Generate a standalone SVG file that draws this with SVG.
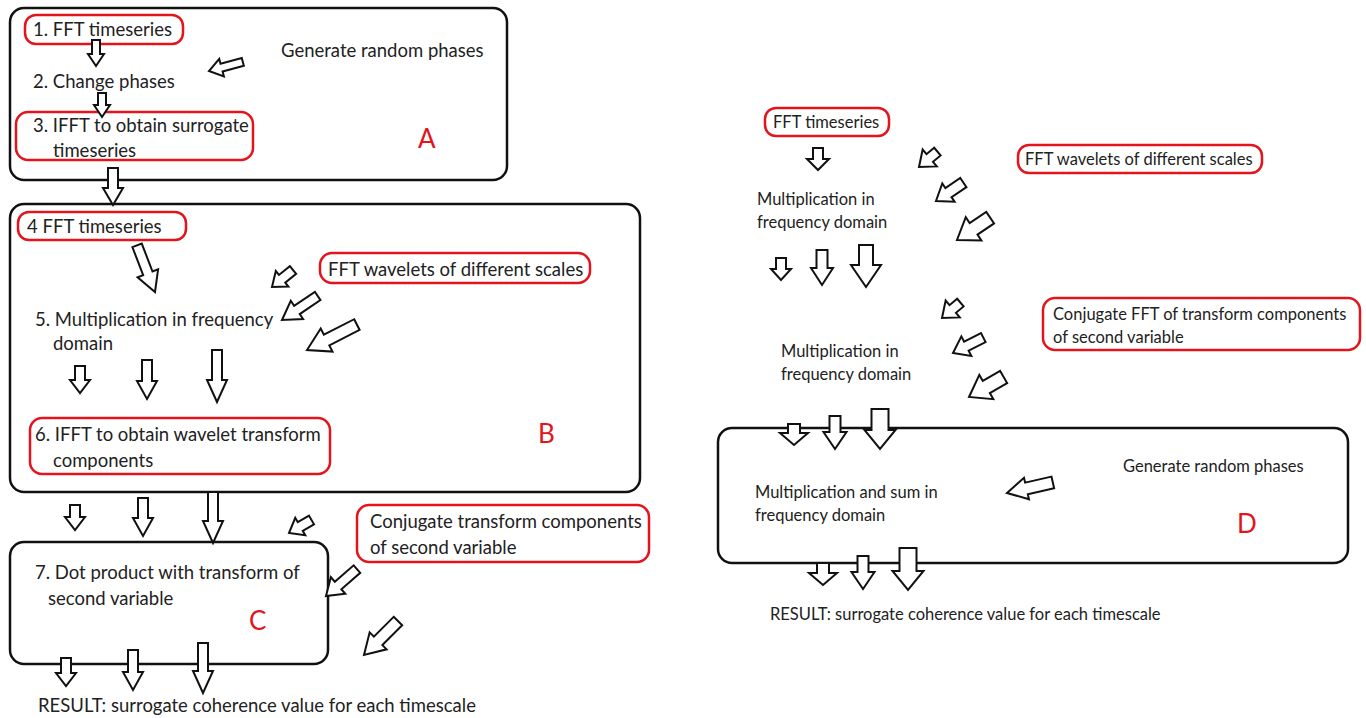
<svg xmlns="http://www.w3.org/2000/svg" width="1366" height="718" viewBox="0 0 1366 718">
<style>
.box{fill:none;stroke:#111;stroke-width:2.5}
.red{fill:none;stroke:#e3141c;stroke-width:2.5}
.t{font-family:Lato,"Open Sans",sans-serif;font-size:18.5px;fill:#222}
.tr{font-family:Lato,"Open Sans",sans-serif;font-size:16.5px;fill:#222}
.lbl{font-family:Lato,"Open Sans",sans-serif;font-size:26px;fill:#e3141c}
.arr{fill:#fff;stroke:#111;stroke-width:2;stroke-linejoin:miter}
</style>
<rect width="1366" height="718" fill="#fff"/>

<g id="boxA"><rect class="box" x="10" y="8" width="497" height="172" rx="14"/><text class="lbl" x="418" y="148">A</text></g>
<g id="boxB"><rect class="box" x="10" y="204" width="630" height="288" rx="14"/><text class="lbl" x="538" y="443">B</text></g>
<g id="boxC"><rect class="box" x="10" y="542" width="318" height="122" rx="14"/><text class="lbl" x="249" y="630">C</text></g>
<g id="boxD"><rect class="box" x="718" y="428" width="630" height="135" rx="14"/><text class="lbl" x="1237" y="533">D</text></g>

<g id="n1"><rect class="red" x="25" y="15" width="158" height="29" rx="11"/><text class="t" x="33" y="36">1. FFT timeseries</text></g>
<g id="nGenA"><text class="t" x="281" y="57">Generate random phases</text></g>
<g id="n2"><text class="t" x="33" y="88">2. Change phases</text></g>
<g id="n3"><rect class="red" x="16" y="112" width="237" height="48" rx="12"/><text class="t" x="33" y="132">3. IFFT to obtain surrogate</text><text class="t" x="53" y="157">timeseries</text></g>
<g id="n4"><rect class="red" x="18" y="212" width="168" height="28" rx="11"/><text class="t" x="27" y="233">4 FFT timeseries</text></g>
<g id="nWavL"><rect class="red" x="320" y="253" width="270" height="30" rx="12"/><text class="t" x="328" y="276">FFT wavelets of different scales</text></g>
<g id="n5"><text class="t" x="35" y="326">5. Multiplication in frequency</text><text class="t" x="53" y="350">domain</text></g>
<g id="n6"><rect class="red" x="30" y="418" width="300" height="56" rx="12"/><text class="t" x="35" y="441">6. IFFT to obtain wavelet transform</text><text class="t" x="53" y="467">components</text></g>
<g id="nConjL"><rect class="red" x="357" y="505" width="292" height="57" rx="12"/><text class="t" x="370" y="528">Conjugate transform components</text><text class="t" x="370" y="554">of second variable</text></g>
<g id="n7"><text class="t" x="35" y="579">7. Dot product with transform of</text><text class="t" x="48" y="605">second variable</text></g>
<g id="nResL"><text class="t" x="38" y="712">RESULT: surrogate coherence value for each timescale</text></g>

<g id="rFFT"><rect class="red" x="765" y="108" width="124" height="28" rx="11"/><text class="tr" x="773" y="128">FFT timeseries</text></g>
<g id="rWav"><rect class="red" x="1018" y="145" width="244" height="28" rx="11"/><text class="tr" x="1025" y="165">FFT wavelets of different scales</text></g>
<g id="rMul1"><text class="tr" x="757" y="205">Multiplication in</text><text class="tr" x="757" y="228">frequency domain</text></g>
<g id="rConj"><rect class="red" x="1043" y="298" width="317" height="52" rx="12"/><text class="tr" x="1053" y="320">Conjugate FFT of transform components</text><text class="tr" x="1053" y="343">of second variable</text></g>
<g id="rMul2"><text class="tr" x="781" y="357">Multiplication in</text><text class="tr" x="781" y="380">frequency domain</text></g>
<g id="rGen"><text class="tr" x="1123" y="472">Generate random phases</text></g>
<g id="rMulSum"><text class="tr" x="755" y="498">Multiplication and sum in</text><text class="tr" x="755" y="521">frequency domain</text></g>
<g id="rRes"><text class="tr" x="770" y="620">RESULT: surrogate coherence value for each timescale</text></g>

<g id="connectors">
<polygon class="arr" transform="translate(96,66)" points="-4,-26 4,-26 4,-12 8,-12 0,0 -8,-12 -4,-12"/>
<polygon class="arr" transform="translate(209,71) rotate(75)" points="-4,-35 4,-35 4,-13 9,-13 0,0 -9,-13 -4,-13"/>
<polygon class="arr" transform="translate(102,117)" points="-4,-24 4,-24 4,-12 8,-12 0,0 -8,-12 -4,-12"/>
<polygon class="arr" transform="translate(113,205)" points="-5,-37 5,-37 5,-17 10,-17 0,0 -10,-17 -5,-17"/>

<polygon class="arr" transform="translate(155,292) rotate(-21)" points="-5,-50 5,-50 5,-20 11,-20 0,0 -11,-20 -5,-20"/>
<polygon class="arr" transform="translate(272,287) rotate(51)" points="-5,-27 5,-27 5,-13 10,-13 0,0 -10,-13 -5,-13"/>
<polygon class="arr" transform="translate(282,320) rotate(56)" points="-5,-43 5,-43 5,-18 11,-18 0,0 -11,-18 -5,-18"/>
<polygon class="arr" transform="translate(307,350) rotate(63)" points="-6,-56 6,-56 6,-22 13,-22 0,0 -13,-22 -6,-22"/>
<polygon class="arr" transform="translate(80,393)" points="-5,-27 5,-27 5,-13 10,-13 0,0 -10,-13 -5,-13"/>
<polygon class="arr" transform="translate(147,399)" points="-5,-39 5,-39 5,-18 10,-18 0,0 -10,-18 -5,-18"/>
<polygon class="arr" transform="translate(217,402)" points="-5,-52 5,-52 5,-22 10,-22 0,0 -10,-22 -5,-22"/>

<polygon class="arr" transform="translate(75,530)" points="-5,-25 5,-25 5,-13 10,-13 0,0 -10,-13 -5,-13"/>
<polygon class="arr" transform="translate(143,536)" points="-5,-38 5,-38 5,-18 10,-18 0,0 -10,-18 -5,-18"/>
<polygon class="arr" transform="translate(213,543)" points="-5,-51 5,-51 5,-22 10,-22 0,0 -10,-22 -5,-22"/>
<polygon class="arr" transform="translate(289,533) rotate(60)" points="-5,-26 5,-26 5,-13 10,-13 0,0 -10,-13 -5,-13"/>
<polygon class="arr" transform="translate(326,596) rotate(49)" points="-5,-41 5,-41 5,-16 11,-16 0,0 -11,-16 -5,-16"/>
<polygon class="arr" transform="translate(364,655) rotate(45)" points="-6,-48 6,-48 6,-20 12,-20 0,0 -12,-20 -6,-20"/>
<polygon class="arr" transform="translate(66,686)" points="-5,-28 5,-28 5,-13 10,-13 0,0 -10,-13 -5,-13"/>
<polygon class="arr" transform="translate(133,690)" points="-5,-40 5,-40 5,-18 10,-18 0,0 -10,-18 -5,-18"/>
<polygon class="arr" transform="translate(203,693)" points="-5,-50 5,-50 5,-22 10,-22 0,0 -10,-22 -5,-22"/>

<polygon class="arr" transform="translate(818,170)" points="-5,-22 5,-22 5,-11 11,-11 0,0 -11,-11 -5,-11"/>
<polygon class="arr" transform="translate(919,167) rotate(50)" points="-5,-24 5,-24 5,-14 11,-14 0,0 -11,-14 -5,-14"/>
<polygon class="arr" transform="translate(936,201) rotate(56)" points="-5.5,-33 5.5,-33 5.5,-15 11,-15 0,0 -11,-15 -5.5,-15"/>
<polygon class="arr" transform="translate(957,240) rotate(56)" points="-7,-40 7,-40 7,-20 14,-20 0,0 -14,-20 -7,-20"/>
<polygon class="arr" transform="translate(781,280)" points="-5,-22 5,-22 5,-11 10,-11 0,0 -10,-11 -5,-11"/>
<polygon class="arr" transform="translate(822,285)" points="-5.5,-35 5.5,-35 5.5,-17 11,-17 0,0 -11,-17 -5.5,-17"/>
<polygon class="arr" transform="translate(866,287)" points="-7,-42 7,-42 7,-22 15,-22 0,0 -15,-22 -7,-22"/>
<polygon class="arr" transform="translate(942,318) rotate(50)" points="-5,-24 5,-24 5,-14 11,-14 0,0 -11,-14 -5,-14"/>
<polygon class="arr" transform="translate(953,353) rotate(63)" points="-5,-34 5,-34 5,-15 11,-15 0,0 -11,-15 -5,-15"/>
<polygon class="arr" transform="translate(969,397) rotate(60)" points="-7,-40 7,-40 7,-20 14,-20 0,0 -14,-20 -7,-20"/>
<polygon class="arr" transform="translate(794,445)" points="-6,-21 6,-21 6,-12 14,-12 0,0 -14,-12 -6,-12"/>
<polygon class="arr" transform="translate(835,449)" points="-5.5,-33 5.5,-33 5.5,-17 11.5,-17 0,0 -11.5,-17 -5.5,-17"/>
<polygon class="arr" transform="translate(880,449)" points="-8.5,-40 8.5,-40 8.5,-19 15.5,-19 0,0 -15.5,-19 -8.5,-19"/>
<polygon class="arr" transform="translate(1007,493) rotate(77)" points="-6,-47 6,-47 6,-20 11,-20 0,0 -11,-20 -6,-20"/>
<polygon class="arr" transform="translate(823,585)" points="-6,-22 6,-22 6,-12 14,-12 0,0 -14,-12 -6,-12"/>
<polygon class="arr" transform="translate(863,589)" points="-5.5,-33 5.5,-33 5.5,-17 11.5,-17 0,0 -11.5,-17 -5.5,-17"/>
<polygon class="arr" transform="translate(908,590)" points="-8.5,-42 8.5,-42 8.5,-19 15.5,-19 0,0 -15.5,-19 -8.5,-19"/>
</g>
</svg>
